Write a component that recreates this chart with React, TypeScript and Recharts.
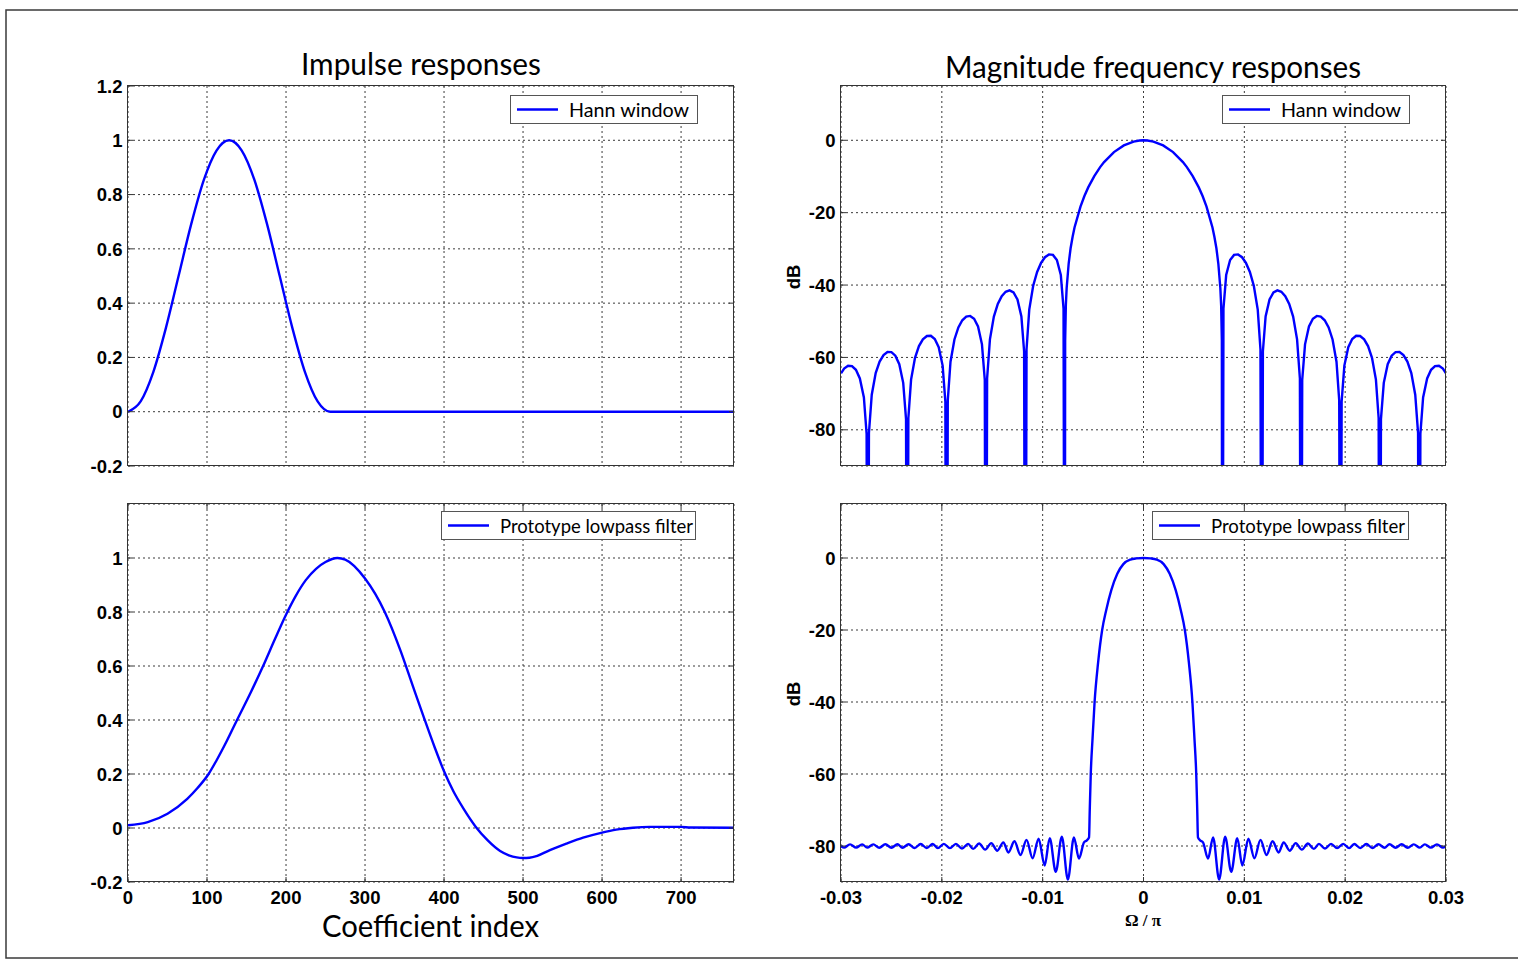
import React from 'react';
import { LineChart, Line, XAxis, YAxis, CartesianGrid, Legend } from 'recharts';

// ---------------- data ----------------
// Top-left: Hann window impulse response
const hannIndex = [0, 16, 32, 48, 64, 80, 96, 112, 128, 144, 160, 176, 192, 208, 224, 240, 256, 767];
const hannWindow = [0, 0.038, 0.146, 0.309, 0.5, 0.691, 0.854, 0.962, 1, 0.962, 0.854, 0.691, 0.5, 0.309, 0.146, 0.038, 0, 0];

// Bottom-left: prototype lowpass filter impulse response
const protoIndex = [0, 25, 50, 75, 88, 102, 112, 125, 138, 155, 171, 186, 200, 212, 225, 238, 250, 265, 275, 300, 325, 345, 360, 375, 388, 400, 412, 425, 440, 455, 471, 482, 492, 500, 508, 518, 534, 555, 576, 600, 618, 639, 660, 700, 712, 767];
const protoImpulse = [0.01, 0.022, 0.053, 0.108, 0.148, 0.2, 0.25, 0.322, 0.4, 0.5, 0.6, 0.7, 0.79, 0.858, 0.918, 0.96, 0.985, 1, 0.994, 0.924, 0.8, 0.656, 0.53, 0.405, 0.3, 0.21, 0.135, 0.07, 0.005, -0.045, -0.085, -0.101, -0.109, -0.111, -0.11, -0.103, -0.082, -0.058, -0.036, -0.017, -0.006, 0.001, 0.004, 0.004, 0.002, 0.001];

// Top-right: Hann window magnitude response (Omega/pi, dB); nulls drop far below the axis
const hannFreq = [
  -0.03, -0.02969, -0.0293, -0.02891, -0.02852, -0.02813, -0.02773, -0.02746,
  -0.02734, -0.02723, -0.02695, -0.02656, -0.02617, -0.02578, -0.02539, -0.025, -0.02461, -0.02422, -0.02383, -0.02355,
  -0.02344, -0.02332, -0.02305, -0.02266, -0.02227, -0.02188, -0.02148, -0.02109, -0.0207, -0.02031, -0.01992, -0.01965,
  -0.01953, -0.01941, -0.01914, -0.01875, -0.01836, -0.01797, -0.01758, -0.01719, -0.0168, -0.01641, -0.01602, -0.01574,
  -0.01563, -0.01551, -0.01523, -0.01484, -0.01445, -0.01406, -0.01367, -0.01328, -0.01289, -0.0125, -0.01211, -0.01184,
  -0.01172, -0.0116, -0.01133, -0.01094, -0.01055, -0.01016, -0.00977, -0.00938, -0.00898, -0.00859, -0.0082, -0.00793,
  -0.00781, -0.00777, -0.0077, -0.00762, -0.00742, -0.00723, -0.00703, -0.00684, -0.00625, -0.00586, -0.00547, -0.00488,
  -0.0043, -0.00391, -0.00293, -0.00195, -0.00098, -0.00039,
  0,
  0.00039, 0.00098, 0.00195, 0.00293, 0.00391, 0.0043,
  0.00488, 0.00547, 0.00586, 0.00625, 0.00684, 0.00703, 0.00723, 0.00742, 0.00762, 0.0077, 0.00777, 0.00781,
  0.00793, 0.0082, 0.00859, 0.00898, 0.00938, 0.00977, 0.01016, 0.01055, 0.01094, 0.01133, 0.0116, 0.01172,
  0.01184, 0.01211, 0.0125, 0.01289, 0.01328, 0.01367, 0.01406, 0.01445, 0.01484, 0.01523, 0.01551, 0.01563,
  0.01574, 0.01602, 0.01641, 0.0168, 0.01719, 0.01758, 0.01797, 0.01836, 0.01875, 0.01914, 0.01941, 0.01953,
  0.01965, 0.01992, 0.02031, 0.0207, 0.02109, 0.02148, 0.02188, 0.02227, 0.02266, 0.02305, 0.02332, 0.02344,
  0.02355, 0.02383, 0.02422, 0.02461, 0.025, 0.02539, 0.02578, 0.02617, 0.02656, 0.02695, 0.02723, 0.02734,
  0.02746, 0.02773, 0.02813, 0.02852, 0.02891, 0.0293, 0.02969, 0.03,
];
const hannDb = [
  -64.39, -63.08, -62.29, -62.38, -63.42, -65.82, -71.05, -81.11,
  -200, -80.89, -70.29, -64.31, -61.15, -59.35, -58.51, -58.54, -59.52, -61.87, -67.03, -77.05,
  -200, -76.79, -66.14, -60.1, -56.87, -54.99, -54.07, -54.02, -54.93, -57.19, -62.26, -72.22,
  -200, -71.9, -61.19, -55.04, -51.71, -49.73, -48.7, -48.53, -49.31, -51.44, -56.38, -66.24,
  -200, -65.83, -55.02, -48.72, -45.22, -43.06, -41.85, -41.48, -42.06, -43.97, -48.67, -58.36,
  -200, -57.79, -46.79, -40.2, -36.38, -33.89, -32.31, -31.54, -31.67, -33.09, -37.24, -46.51,
  -200, -55.4, -45.5, -40.81, -34.05, -29.83, -26.67, -24.1, -18.32, -15.4, -12.95, -9.89,
  -7.42, -6.02, -3.27, -1.42, -0.35, -0.06,
  0,
  -0.06, -0.35, -1.42, -3.27, -6.02, -7.42,
  -9.89, -12.95, -15.4, -18.32, -24.1, -26.67, -29.83, -34.05, -40.81, -45.5, -55.4, -200,
  -46.51, -37.24, -33.09, -31.67, -31.54, -32.31, -33.89, -36.38, -40.2, -46.79, -57.79, -200,
  -58.36, -48.67, -43.97, -42.06, -41.48, -41.85, -43.06, -45.22, -48.72, -55.02, -65.83, -200,
  -66.24, -56.38, -51.44, -49.31, -48.53, -48.7, -49.73, -51.71, -55.04, -61.19, -71.9, -200,
  -72.22, -62.26, -57.19, -54.93, -54.02, -54.07, -54.99, -56.87, -60.1, -66.14, -76.79, -200,
  -77.05, -67.03, -61.87, -59.52, -58.54, -58.51, -59.35, -61.15, -64.31, -70.29, -80.89, -200,
  -81.11, -71.05, -65.82, -63.42, -62.38, -62.29, -63.08, -64.39,
];

// Bottom-right: prototype lowpass magnitude response (Omega/pi, dB)
const protoFreq = [
  -0.03, -0.0297, -0.0291, -0.0285, -0.0279, -0.0274, -0.0268, -0.0262, -0.0256, -0.025, -0.0244, -0.0239,
  -0.0233, -0.0227, -0.0221, -0.0215, -0.0209, -0.0204, -0.0198, -0.0192, -0.0186, -0.018, -0.0174, -0.0169,
  -0.0163, -0.0157, -0.0151, -0.0145, -0.0139, -0.0134, -0.0128, -0.0122, -0.0116, -0.011, -0.0104, -0.0098,
  -0.0093, -0.0087, -0.0081, -0.0075, -0.0069, -0.0064, -0.0059, -0.0056, -0.0054, -0.00533, -0.00523, -0.00505,
  -0.00485, -0.0045, -0.0041, -0.0037, -0.0032, -0.0026, -0.002, -0.0013, -0.0007,
  0,
  0.0007, 0.0013, 0.002, 0.0026, 0.0032, 0.0037, 0.0041, 0.0045, 0.00485,
  0.00505, 0.00523, 0.00533, 0.0054, 0.0056, 0.0059, 0.0064, 0.0069, 0.0075, 0.0081, 0.0087, 0.0093,
  0.0098, 0.0104, 0.011, 0.0116, 0.0122, 0.0128, 0.0134, 0.0139, 0.0145, 0.0151, 0.0157, 0.0163,
  0.0169, 0.0174, 0.018, 0.0186, 0.0192, 0.0198, 0.0204, 0.0209, 0.0215, 0.0221, 0.0227, 0.0233,
  0.0239, 0.0244, 0.025, 0.0256, 0.0262, 0.0268, 0.0274, 0.0279, 0.0285, 0.0291, 0.0297, 0.03,
];
const protoDb = [
  -80.1, -80.45, -79.55, -80.45, -79.55, -80.45, -79.55, -80.5, -79.5, -80.5, -79.5, -80.5,
  -79.5, -80.55, -79.45, -80.55, -79.45, -80.6, -79.4, -80.6, -79.4, -80.7, -79.4, -80.8,
  -79.3, -81.0, -79.2, -81.3, -79.0, -81.8, -78.7, -82.5, -78.3, -83.4, -78.0, -85.4,
  -77.8, -87.2, -77.4, -89.3, -77.6, -83.5, -79.0, -78.4, -77.6, -70.0, -60.0, -50.0,
  -40.0, -29.0, -20.0, -14.5, -9.0, -4.4, -1.7, -0.45, -0.12,
  0,
  -0.12, -0.45, -1.7, -4.4, -9.0, -14.5, -20.0, -29.0, -40.0,
  -50.0, -60.0, -70.0, -77.6, -78.4, -79.0, -83.5, -77.6, -89.3, -77.4, -87.2, -77.8,
  -85.4, -78.0, -83.4, -78.3, -82.5, -78.7, -81.8, -79.0, -81.3, -79.2, -81.0, -79.3,
  -80.8, -79.4, -80.7, -79.4, -80.6, -79.4, -80.6, -79.45, -80.55, -79.45, -80.55, -79.5,
  -80.5, -79.5, -80.5, -79.5, -80.5, -79.55, -80.45, -79.55, -80.45, -79.55, -80.45, -80.1,
];

// ticks
const coefTicks = [0, 100, 200, 300, 400, 500, 600, 700];
const ampTicksTop = [-0.2, 0, 0.2, 0.4, 0.6, 0.8, 1, 1.2];
const ampTicksBottom = [-0.2, 0, 0.2, 0.4, 0.6, 0.8, 1];
const freqTicks = [-0.03, -0.02, -0.01, 0, 0.01, 0.02, 0.03];
const dbTicks = [-80, -60, -40, -20, 0];

// ---------------- styling ----------------
const FRAME = '#333333';
const GRID = '#3a3a3a';
const BLUE = '#0000ff';
const TICK_LEN = 5;
const YW = 60;
const M_TOP = 15;
const M_RIGHT = 30;
const M_BOTTOM = 15;
const tickFont: React.CSSProperties = {
  fontFamily: "'Liberation Sans', Arial, sans-serif",
  fontWeight: 700,
  fontSize: 18.5,
  fill: '#000',
};
const labelFamily = "Lato, 'Open Sans', sans-serif";

function makeXTick(plotTop: number, plotBottom: number, showLabel: boolean) {
  return (props: any) => {
    const { x, payload } = props;
    return (
      <g>
        <line x1={x} x2={x} y1={plotBottom} y2={plotBottom - TICK_LEN} stroke={FRAME} />
        <line x1={x} x2={x} y1={plotTop} y2={plotTop + TICK_LEN} stroke={FRAME} />
        {showLabel && (
          <text x={x} y={plotBottom + 21.5} textAnchor="middle" style={tickFont}>
            {String(payload.value)}
          </text>
        )}
      </g>
    );
  };
}

function makeYTick(plotLeft: number, plotRight: number) {
  return (props: any) => {
    const { y, payload } = props;
    return (
      <g>
        <line x1={plotLeft} x2={plotLeft + TICK_LEN} y1={y} y2={y} stroke={FRAME} />
        <line x1={plotRight} x2={plotRight - TICK_LEN} y1={y} y2={y} stroke={FRAME} />
        <text x={plotLeft - 5.5} y={y} dy="0.36em" textAnchor="end" style={tickFont}>
          {String(payload.value)}
        </text>
      </g>
    );
  };
}

function makeLegend(w: number, h: number, textW: number) {
  return (props: any) => {
    const p = props.payload && props.payload[0];
    if (!p) return null;
    return (
      <svg width={w} height={h} style={{ display: 'block', overflow: 'visible' }}>
        <rect x={0.5} y={0.5} width={w - 1} height={h - 1} fill="#fff" stroke="#555" />
        <line x1={7} x2={48} y1={h / 2} y2={h / 2} stroke={p.color} strokeWidth={2.4} />
        <text
          x={59}
          y={22}
          fontFamily={labelFamily}
          fontSize={19}
          textLength={textW}
          lengthAdjust="spacingAndGlyphs"
          fill="#000"
        >
          {p.value}
        </text>
      </svg>
    );
  };
}

type PanelProps = {
  plotLeft: number;
  plotTop: number;
  plotW: number;
  plotH: number;
  xAxisH: number;
  data: { x: number; y: number }[];
  xDomain: [number, number];
  yDomain: [number, number];
  xTicks: number[];
  yTicks: number[];
  showXLabels: boolean;
  name: string;
  curve: 'linear' | 'monotone';
  legend: { left: number; top: number; w: number; h: number; textW: number };
};

function Panel(p: PanelProps) {
  const width = YW + p.plotW + M_RIGHT;
  const height = M_TOP + p.plotH + p.xAxisH + M_BOTTOM;
  const pTop = M_TOP;
  const pBottom = M_TOP + p.plotH;
  const pLeft = YW;
  const pRight = YW + p.plotW;
  return (
    <div style={{ position: 'absolute', left: p.plotLeft - YW, top: p.plotTop - M_TOP }}>
      <LineChart
        width={width}
        height={height}
        data={p.data}
        margin={{ top: M_TOP, right: M_RIGHT, bottom: M_BOTTOM, left: 0 }}
      >
        <CartesianGrid stroke={GRID} strokeDasharray="2 3" />
        <XAxis
          dataKey="x"
          type="number"
          domain={p.xDomain}
          ticks={p.xTicks}
          interval={0}
          height={p.xAxisH}
          allowDataOverflow
          tickLine={false}
          axisLine={false}
          tick={makeXTick(pTop, pBottom, p.showXLabels)}
        />
        <YAxis
          type="number"
          domain={p.yDomain}
          ticks={p.yTicks}
          interval={0}
          width={YW}
          allowDataOverflow
          tickLine={false}
          axisLine={false}
          tick={makeYTick(pLeft, pRight)}
        />
        <Legend
          layout="horizontal"
          verticalAlign="middle"
          align="center"
          content={makeLegend(p.legend.w, p.legend.h, p.legend.textW)}
          wrapperStyle={{ left: p.legend.left, top: p.legend.top + M_TOP, width: p.legend.w, height: p.legend.h }}
        />
        <Line
          dataKey="y"
          name={p.name}
          type={p.curve}
          stroke={BLUE}
          strokeWidth={2.4}
          dot={false}
          isAnimationActive={false}
        />
      </LineChart>
    </div>
  );
}

const panels = {
  tl: { x: 127.5, y: 85.5, w: 606, h: 380 },
  bl: { x: 127.5, y: 503.5, w: 606, h: 378 },
  tr: { x: 840.5, y: 85.5, w: 605, h: 380 },
  br: { x: 840.5, y: 503.5, w: 605, h: 378 },
};

export default function App() {
  const hannImpulseData = hannIndex.map((n, i) => ({ x: n, y: hannWindow[i] }));
  const protoImpulseData = protoIndex.map((n, i) => ({ x: n, y: protoImpulse[i] }));
  const hannFreqData = hannFreq.map((f, i) => ({ x: f, y: hannDb[i] }));
  const protoFreqData = protoFreq.map((f, i) => ({ x: f, y: protoDb[i] }));

  return (
    <div
      style={{
        position: 'absolute',
        left: 0,
        top: 0,
        width: 1518,
        height: 959,
        overflow: 'hidden',
        background: '#fff',
      }}
    >
      <Panel
        plotLeft={panels.tl.x}
        plotTop={panels.tl.y}
        plotW={panels.tl.w}
        plotH={panels.tl.h}
        xAxisH={0}
        data={hannImpulseData}
        xDomain={[0, 767]}
        yDomain={[-0.2, 1.2]}
        xTicks={coefTicks}
        yTicks={ampTicksTop}
        showXLabels={false}
        name="Hann window"
        curve="monotone"
        legend={{ left: 442, top: 9.5, w: 188, h: 29, textW: 120 }}
      />
      <Panel
        plotLeft={panels.bl.x}
        plotTop={panels.bl.y}
        plotW={panels.bl.w}
        plotH={panels.bl.h}
        xAxisH={40}
        data={protoImpulseData}
        xDomain={[0, 767]}
        yDomain={[-0.2, 1.2]}
        xTicks={coefTicks}
        yTicks={ampTicksBottom}
        showXLabels={true}
        name="Prototype lowpass filter"
        curve="monotone"
        legend={{ left: 373, top: 7.5, w: 255, h: 29, textW: 193 }}
      />
      <Panel
        plotLeft={panels.tr.x}
        plotTop={panels.tr.y}
        plotW={panels.tr.w}
        plotH={panels.tr.h}
        xAxisH={0}
        data={hannFreqData}
        xDomain={[-0.03, 0.03]}
        yDomain={[-90, 15]}
        xTicks={freqTicks}
        yTicks={dbTicks}
        showXLabels={false}
        name="Hann window"
        curve="linear"
        legend={{ left: 441.5, top: 9.5, w: 188, h: 29, textW: 120 }}
      />
      <Panel
        plotLeft={panels.br.x}
        plotTop={panels.br.y}
        plotW={panels.br.w}
        plotH={panels.br.h}
        xAxisH={40}
        data={protoFreqData}
        xDomain={[-0.03, 0.03]}
        yDomain={[-90, 15]}
        xTicks={freqTicks}
        yTicks={dbTicks}
        showXLabels={true}
        name="Prototype lowpass filter"
        curve="monotone"
        legend={{ left: 371.5, top: 7.5, w: 257, h: 29, textW: 194 }}
      />
      <svg
        width={1518}
        height={959}
        style={{ position: 'absolute', left: 0, top: 0, pointerEvents: 'none' }}
      >
        <rect x={6} y={10} width={1540} height={948} fill="none" stroke="#3a3a3a" strokeWidth={1.5} />
        {Object.values(panels).map((b, i) => (
          <rect key={i} x={b.x} y={b.y} width={b.w} height={b.h} fill="none" stroke={FRAME} strokeWidth={1} />
        ))}
        <text x={421} y={75} textAnchor="middle" fontFamily={labelFamily} fontSize={30} textLength={240} lengthAdjust="spacingAndGlyphs" fill="#000">
          Impulse responses
        </text>
        <text x={1153} y={78} textAnchor="middle" fontFamily={labelFamily} fontSize={30} textLength={416} lengthAdjust="spacingAndGlyphs" fill="#000">
          Magnitude frequency responses
        </text>
        <text x={430.5} y={937} textAnchor="middle" fontFamily={labelFamily} fontSize={30} textLength={217} lengthAdjust="spacingAndGlyphs" fill="#000">
          Coefficient index
        </text>
        <text x={1143} y={926} textAnchor="middle" fontFamily="'Liberation Serif', 'DejaVu Serif', serif" fontWeight={700} fontSize={17} fill="#000">
          Ω / π
        </text>
        <text x={793} y={277} dy="0.36em" textAnchor="middle" transform="rotate(-90 793 277)" style={tickFont}>
          dB
        </text>
        <text x={793} y={694} dy="0.36em" textAnchor="middle" transform="rotate(-90 793 694)" style={tickFont}>
          dB
        </text>
      </svg>
    </div>
  );
}
